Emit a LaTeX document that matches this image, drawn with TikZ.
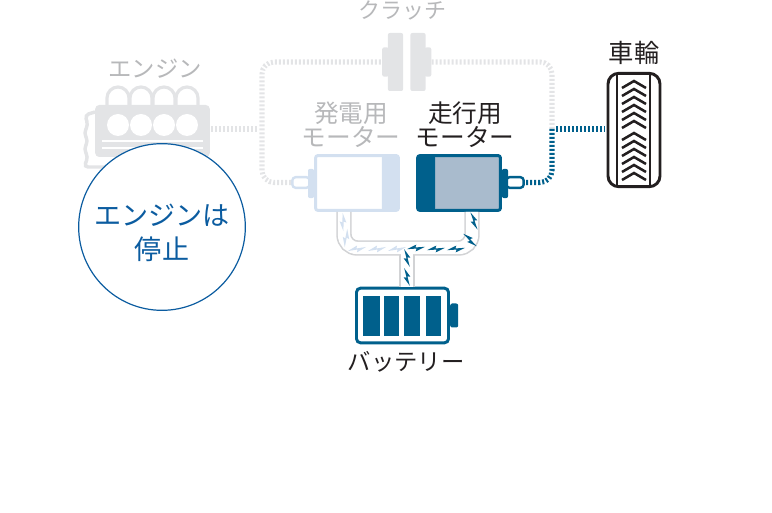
\documentclass[tikz,border=0pt]{standalone}
\usepackage{fontspec}
\usepackage{xcolor}
\setmainfont{Noto Sans CJK JP}
\usetikzlibrary{positioning,calc}
\definecolor{drive}{HTML}{00608C}
\definecolor{driveback}{HTML}{A9BBCD}
\definecolor{genline}{HTML}{D3E0F0}
\definecolor{idle}{HTML}{E3E4E6}
\definecolor{idletext}{HTML}{B7B8BA}
\definecolor{stopblue}{HTML}{0B5CA0}
\definecolor{pipe}{HTML}{D2D3D5}
\definecolor{ink}{HTML}{231F20}

\begin{document}
\begin{tikzpicture}[
  x=0.75pt, y=-0.75pt,
  lbl/.style={inner sep=0pt, align=center, font=\fontsize{18.5}{18}\selectfont},
  plain/.style={inner sep=0pt, rounded corners=1.5pt},
  mot/.style={plain, line width=2.2pt, minimum width=62pt, minimum height=41pt, fill=white},
  tab/.style={plain, minimum width=4.5pt, minimum height=22pt},
  shaft/.style={plain, fill=white, line width=1.8pt, minimum width=13pt, minimum height=8pt, rounded corners=2.5pt},
  dots/.style={line width=3.8pt, dash pattern=on 1.5pt off 1.5pt, rounded corners=9pt},
  bolt/.pic={\fill[pic actions] (-9,2) -- (0,-3.4) -- (-0.6,-0.5) -- (9,-2) -- (0,3.4) -- (0.6,0.5) -- cycle;}]
\useasboundingbox (0,0) rectangle (772,513);
% engine
\node[plain, fill=idle, minimum width=86pt, minimum height=39pt, rounded corners=3pt] (engine) at (152.5,131) {};
\foreach \cx in {118,141,164,187} {
  \draw[idle, line width=2.4pt] (\cx-11,105) -- (\cx-11,98) arc (180:360:11) -- (\cx+11,105);
  \fill[white] (\cx,125) circle (11);
}
\foreach \sy in {141,148} \fill[white] (102,\sy-1.3) rectangle (203,\sy+1.3);
\draw[idle, line width=2.6pt, rounded corners=3pt] (95,112) -- (85,115) -- (88,125) -- (84,133) -- (88,141) -- (84,149) -- (88,157) -- (84,167) -- (130,167) -- (132,161) -- (203,161);
\node[lbl, text=idletext, font=\fontsize{17.5}{18}\selectfont] (engLabel) at (155,69) {エンジン};
% dotted shafts
\coordinate (engOut) at (211,129);
\coordinate (busL) at (258,129);
\coordinate (busR) at (556,129);
\coordinate (bend) at (552,129);
% clutch
\node[plain, fill=idle, minimum width=11.5pt, minimum height=43.5pt] (clutchA) at (395.5,62) {};
\node[plain, fill=idle, minimum width=11.5pt, minimum height=43.5pt] (clutchB) at (418,62) {};
\node[plain, fill=idle, minimum width=5pt, minimum height=22pt] (stubA) at (385.5,62) {};
\node[plain, fill=idle, minimum width=5pt, minimum height=22pt] (stubB) at (428,62) {};
\node[lbl, text=idletext, font=\fontsize{16.5}{18}\selectfont] (clutchLabel) at (402,10) {クラッチ};
% motors
\node[shaft, draw=genline] (genShaft) at (301,182.5) {};
\node[tab, fill=genline] (genTab) at (311,183.5) {};
\node[shaft, draw=drive] (driveShaft) at (515,182.5) {};
\node[tab, fill=drive] (driveTab) at (505,183.5) {};
\node[mot, draw=genline, path picture={\fill[genline] ($(path picture bounding box.north east)+(-16.5,0)$) rectangle (path picture bounding box.south east);}] (gen) at (357,183) {};
\node[mot, draw=drive, fill=driveback, path picture={\fill[drive] (path picture bounding box.north west) rectangle ($(path picture bounding box.south west)+(17.5,0)$);}] (drive) at (459,183) {};
\draw[idle, dots] (engOut) -- (busL);
\draw[idle, dots] (genShaft.west) -| (262,62) -- (stubA.west);
\draw[idle, dots] (stubB.east) -| (bend);
\draw[drive, dots] (bend) |- (driveShaft.east);
\draw[drive, dots] (busR) -- (605,129);
\node[lbl, text=idletext] (genLabel) at (351,125) {発電用\\モーター};
\node[lbl, text=ink] (driveLabel) at (465,125) {走行用\\モーター};
% wheel
\node[plain, draw=ink, line width=2.2pt, minimum width=39pt, minimum height=85pt, rounded corners=8pt] (wheel) at (634,130) {};
\draw[ink, line width=2.2pt] (617,73) -- (617,187) (650,73) -- (650,187);
\foreach \cy in {84,92,100,108,116,124,136,144,152,160,168,176}
  \draw[ink, line width=1.9pt] (622,\cy+4) -- (634,\cy-3) -- (646,\cy+4);
\node[lbl, text=ink, font=\fontsize{19}{19}\selectfont] (wheelLabel) at (634,53) {車輪};
% pipes to the battery
\node[plain, draw=drive, fill=white, line width=2.2pt, minimum width=69pt, minimum height=41pt, rounded corners=3pt] (batt) at (402.5,315.5) {};
\coordinate (pipeL) at (344,212);
\coordinate (pipeR) at (472,212);
\coordinate (pipeJ) at (407,248);
\foreach \col/\wd in {pipe/11.6pt, white/9.2pt} {
  \draw[\col, line width=\wd, rounded corners=10pt] (pipeL) |- (pipeJ) -| (pipeR);
  \draw[\col, line width=\wd] (pipeJ) -- (pipeJ |- batt.north);
}
\foreach \bx/\by/\ba in {343/222/80, 346/238/70, 357/249/0, 377/249/0, 397/249/0}
  \pic[fill=genline, rotate=\ba] at (\bx,\by) {bolt};
\foreach \bx/\by/\ba in {416/248/-5, 436/249/-5, 456/249/-5, 470/240/-55, 474/221/-80, 407/258/-85, 407/277/-85}
  \pic[fill=drive, rotate=\ba] at (\bx,\by) {bolt};
% battery
\node[plain, fill=drive, minimum width=6pt, minimum height=18pt, right=0pt of batt] (battTip) {};
\foreach \xa/\xb in {363/380, 384/399, 404/420, 426/441}
  \fill[drive] (\xa,296) rectangle (\xb,336);
\node[lbl, text=ink, font=\fontsize{17.5}{18}\selectfont] (battLabel) at (406,362) {バッテリー};
% stopped note
\node[circle, draw=stopblue, fill=white, line width=0.9pt, minimum size=125pt, inner sep=0pt] (stopNote) at (162,227) {};
\node[lbl, text=stopblue, font=\fontsize{20.3}{26}\selectfont] (stopLabel) at (162,233) {エンジンは\\停止};
\end{tikzpicture}
\end{document}
